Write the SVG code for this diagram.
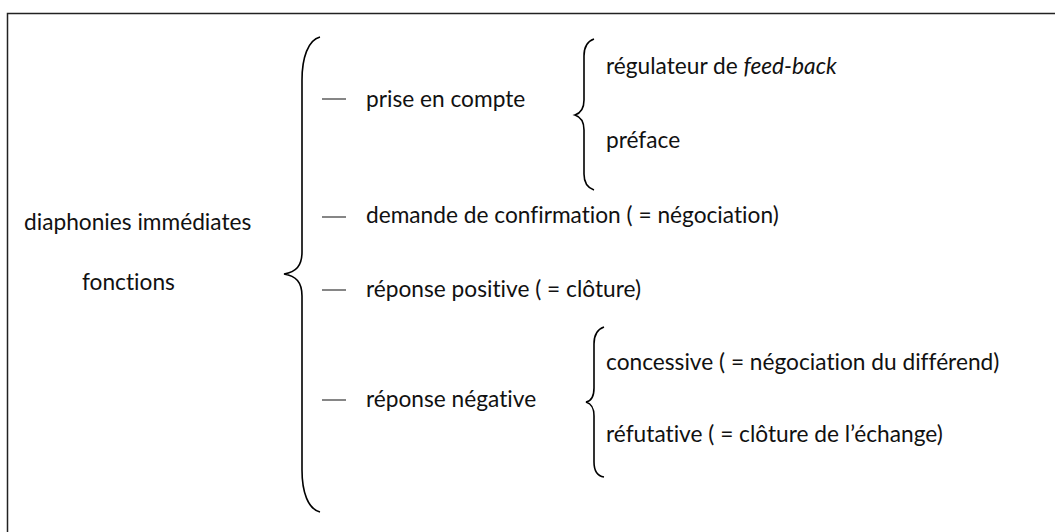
<svg xmlns="http://www.w3.org/2000/svg" width="1055" height="532" viewBox="0 0 1055 532">
<style>
text{font-family:Lato,"Open Sans",sans-serif;font-size:22.7px;fill:#111;font-variant-ligatures:none;font-feature-settings:"liga" 0,"dlig" 0}
.brace{fill:none;stroke:#000;stroke-width:1.6}
.dash{stroke:#444;stroke-width:1.3}
</style>
<rect width="1055" height="532" fill="#fff"/>
<path d="M7.5,532 V13.5 H1055" fill="none" stroke="#222" stroke-width="1.5"/>
<g id="root">
<text x="24" y="230">diaphonies immédiates</text>
<text x="82" y="290">fonctions</text>
</g>
<g id="connectors">
<path class="brace" d="M320,37 C308,40 302,58 302,80 L302,252 C302,266 296,272 284,274 C296,276 302,282 302,296 L302,470 C302,492 308,509 320,512"/>
<path class="brace" d="M594,39 C588,41 584,46 584,56 L584,100 C584,108 581,113 575,115 C581,117 584,122 584,130 L584,174 C584,184 588,188 594,190"/>
<path class="brace" d="M604,327 C598,329 594,334 594,344 L594,388 C594,396 592,401 586,402 C592,404 594,408 594,416 L594,462 C594,472 598,476 604,477"/>
<line class="dash" x1="322" y1="99" x2="346" y2="99"/>
<line class="dash" x1="322" y1="217" x2="346" y2="217"/>
<line class="dash" x1="322" y1="290" x2="346" y2="290"/>
<line class="dash" x1="322" y1="400" x2="346" y2="400"/>
</g>
<g id="prise"><text x="366" y="107">prise en compte</text></g>
<g id="regulateur"><text x="606" y="74">régulateur de <tspan font-style="italic">feed-back</tspan></text></g>
<g id="preface"><text x="606" y="148">préface</text></g>
<g id="demande"><text x="366" y="223">demande de confirmation ( = négociation)</text></g>
<g id="positive"><text x="366" y="297">réponse positive ( = clôture)</text></g>
<g id="negative"><text x="366" y="407">réponse négative</text></g>
<g id="concessive"><text x="606" y="370">concessive ( = négociation du différend)</text></g>
<g id="refutative"><text x="606" y="442">réfutative ( = clôture de l’échange)</text></g>
</svg>
